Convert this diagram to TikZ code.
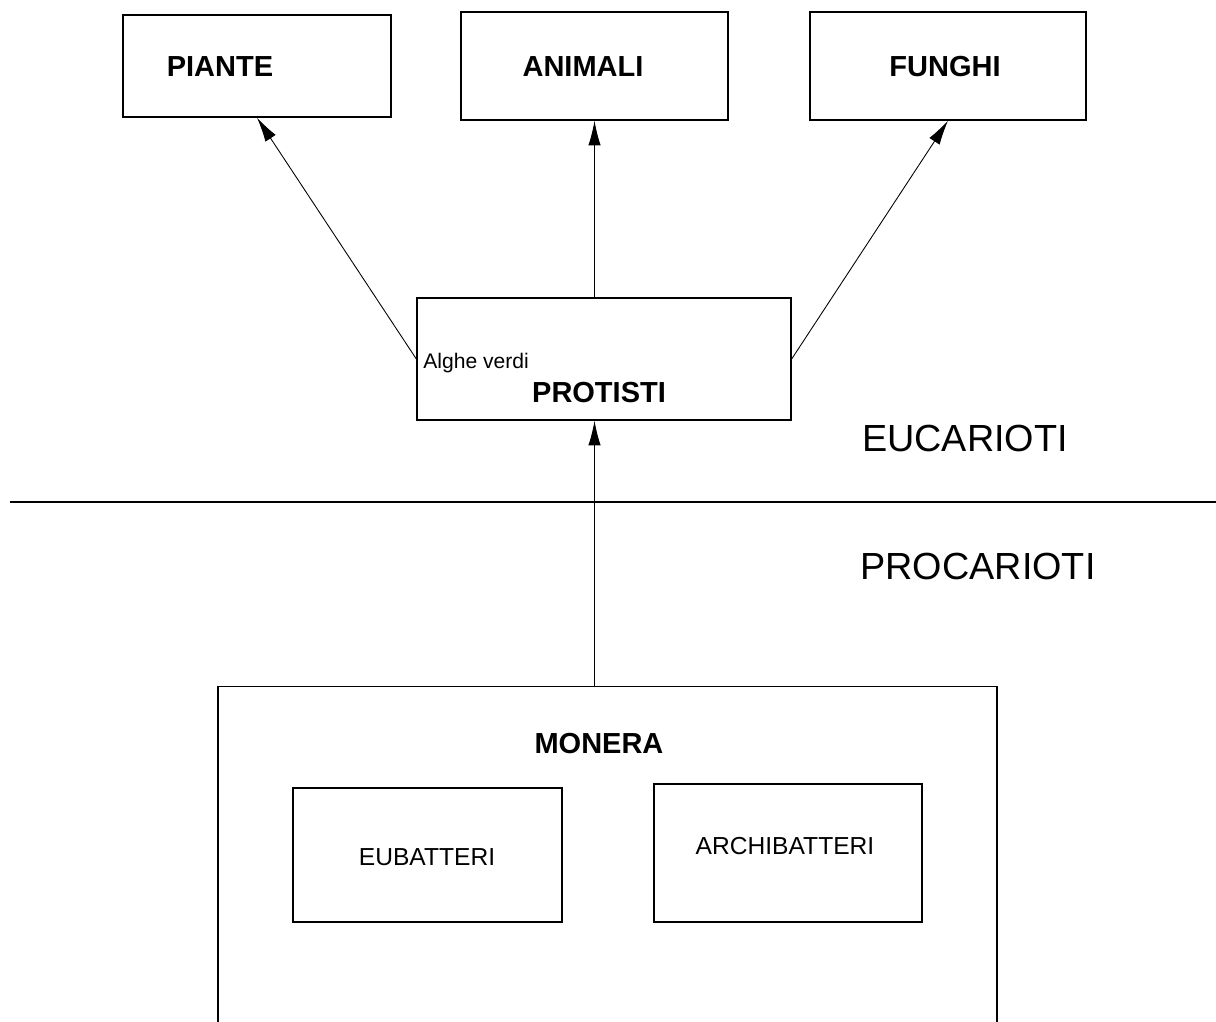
\documentclass[tikz,border=0pt]{standalone}
\usepackage{fontspec}
\setmainfont{Liberation Sans}
\usetikzlibrary{arrows.meta}
\tikzset{
    box/.style={draw, line width=0.8pt, rectangle, inner sep=0pt},
    bold/.style={font=\fontsize{16.5}{18}\selectfont\bfseries},
    big/.style={font=\fontsize{21.5}{24}\selectfont},
    mid/.style={font=\fontsize{14}{16}\selectfont},
    small/.style={font=\fontsize{12}{14}\selectfont},
    arr/.style={line width=0.5pt, -{Latex[length=14pt,width=7pt]}}
}
\begin{document}
\begin{tikzpicture}[x=0.02cm, y=-0.02cm]
        \clip (0,0) rectangle (1216,1021);
        % regni in alto
        \foreach \n/\x/\w/\h/\tx/\t in {piante/257/268/102/220/PIANTE, animali/594.5/267/108/583/ANIMALI, funghi/948/276/108/945/FUNGHI}{
            \node[box, minimum width=\w*0.02cm, minimum height=\h*0.02cm] (\n) at (\x, 66) {};
            \node[bold] (\n-t) at (\tx, 67) {\t};
        }
        \node[box, minimum width=7.48cm, minimum height=2.44cm] (protisti) at (604, 359) {};
        \node[small, anchor=base west, inner sep=0pt] (alghe) at (423, 368) {Alghe verdi};
        \node[bold] (protisti-t) at (599, 393) {PROTISTI};
        \draw[arr] (protisti.west) -- (piante.south);
        \draw[arr] (animali.south |- protisti.north) -- (animali.south);
        \draw[arr] (protisti.east) -- (funghi.south);
        % separazione
        \coordinate (sepL) at (10, 502);
        \coordinate (sepR) at (1216, 502);
        \draw[line width=1.5pt] (sepL) -- (sepR);
        \node[big] (euc) at (965, 438) {EUCARIOTI};
        \node[big] (proc) at (978, 566) {PROCARIOTI};
        % monera
        \node[box, minimum width=15.58cm, minimum height=7.4cm, anchor=north] (monera) at (607.5, 686) {};
        \node[bold] (monera-t) at (599, 744) {MONERA};
        \node[box, minimum width=5.38cm, minimum height=2.68cm] (eub) at (427.5, 855) {};
        \node[mid] (eub-t) at (427, 857) {EUBATTERI};
        \node[box, minimum width=5.36cm, minimum height=2.76cm] (arch) at (788, 853) {};
        \node[mid] (arch-t) at (785, 846) {ARCHIBATTERI};
        \draw[arr] (monera.north -| animali.south) -- (protisti.south -| animali.south);
\end{tikzpicture}
\end{document}
